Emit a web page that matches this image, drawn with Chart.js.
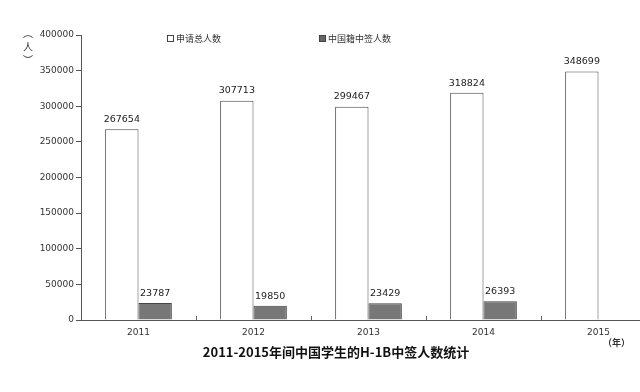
<!DOCTYPE html>
<html>
<head>
<meta charset="utf-8">
<script src="https://cdn.jsdelivr.net/npm/chart.js@4"></script>
<style>
  html, body { margin: 0; padding: 0; background: #fff; overflow: hidden; width: 640px; height: 392px; }
  #wrap { position: relative; width: 640px; height: 392px; overflow: hidden; }
  canvas { position: absolute; left: 0; top: 0; }
  .note { position: absolute; font-family: "Noto Sans CJK SC", sans-serif; color: #333; white-space: nowrap; }
  .box { display: inline-block; width: 5px; height: 5px; border: 1px solid #444; margin-right: 2px; vertical-align: 0px; }
</style>
</head>
<body>
<div id="wrap">
  <canvas id="myChart" width="660" height="392"></canvas>
  <div class="note" style="left:167px; top:32px; font-size:9px;"><span class="box" style="background:#fff"></span>申请总人数</div>
  <div class="note" style="left:319px; top:32px; font-size:9px;"><span class="box" style="background:#666"></span>中国籍中签人数</div>
  <div class="note" style="left:23px; top:27px; font-size:10px; line-height:12px;">︵</div>
  <div class="note" style="left:23px; top:41px; font-size:10px; line-height:12px;">人</div>
  <div class="note" style="left:23px; top:54px; font-size:10px; line-height:12px;">︶</div>
  <div class="note" style="left:603px; top:336px; font-size:9px; font-weight:bold;">（年）</div>
  <div class="note" style="left:0; width:672px; text-align:center; top:342px; font-size:13px; font-weight:bold; color:#111;">2011-2015年间中国学生的H-1B中签人数统计</div>
</div>
<script>
const years = ['2011', '2012', '2013', '2014', '2015'];
const applicants = [267654, 307713, 299467, 318824, 348699];
const selectedChinese = [23787, 19850, 23429, 26393, null];

// подписи значений над столбиками
const valueLabels = {
    id: 'valueLabels',
    afterDatasetsDraw(chart) {
        const ctx = chart.ctx;
        ctx.save();
        ctx.font = '9.5px "DejaVu Sans", sans-serif';
        ctx.fillStyle = '#222';
        ctx.textAlign = 'center';
        ctx.textBaseline = 'bottom';
        chart.data.datasets.forEach((ds, i) => {
            chart.getDatasetMeta(i).data.forEach((bar, idx) => {
                if (ds.data[idx] == null) return;
                ctx.fillText(ds.data[idx], bar.x, bar.y - 5);
            });
        });
        ctx.restore();
    }
};

const ctx = document.getElementById('myChart').getContext('2d');
new Chart(ctx, {
    type: 'bar',
    data: {
        labels: years,
        datasets: [{
            label: '申请总人数',
            data: applicants,
            backgroundColor: '#ffffff',
            borderColor: '#4a4a4a',
            borderWidth: 1
        }, {
            label: '中国籍中签人数',
            data: selectedChinese,
            backgroundColor: '#777777',
            borderColor: '#444444',
            borderWidth: 1
        }]
    },
    options: {
        responsive: false,
        animation: false,
        layout: { padding: { top: 35, right: 4, bottom: 52, left: 0 } },
        categoryPercentage: 0.58,
        barPercentage: 1.0,
        plugins: {
            legend: { display: false },
            tooltip: { enabled: false }
        },
        scales: {
            x: {
                grid: { drawOnChartArea: false, offset: true, tickLength: -4, color: '#666' },
                border: { color: '#555', width: 1 },
                ticks: { color: '#333', font: { size: 9, family: 'DejaVu Sans' }, padding: 11 },
                afterFit: s => { s.height = 20; }
            },
            y: {
                min: 0,
                max: 400000,
                grid: { drawOnChartArea: false, tickLength: 5, color: '#555' },
                border: { color: '#555', width: 1 },
                ticks: {
                    stepSize: 50000,
                    color: '#333',
                    font: { size: 9, family: 'DejaVu Sans' },
                    padding: 2,
                    callback: v => String(v)
                },
                afterFit: s => { s.width = 81; }
            }
        }
    },
    plugins: [valueLabels]
});
</script>
</body>
</html>
